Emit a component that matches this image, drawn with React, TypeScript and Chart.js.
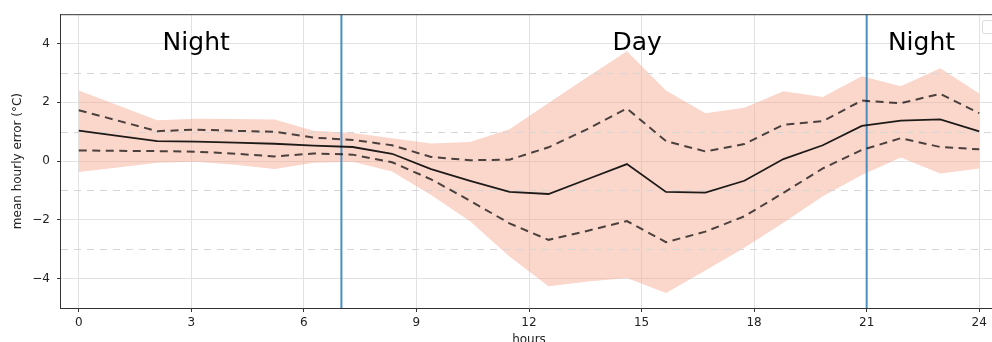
import React, { useEffect, useRef } from 'react';
import { Chart, registerables } from 'chart.js';

Chart.register(...registerables);

// ---- data ----
const HOURS = [0, 1.04, 2.09, 3.13, 4.17, 5.22, 6.26, 7.3, 8.35, 9.39, 10.43, 11.48, 12.52, 13.57, 14.61, 15.65, 16.7, 17.74, 18.78, 19.83, 20.87, 21.91, 22.96, 24];
const MEAN_ERROR = [1.04, 0.86, 0.68, 0.66, 0.63, 0.59, 0.53, 0.48, 0.25, -0.27, -0.67, -1.05, -1.12, -0.61, -0.1, -1.05, -1.07, -0.67, 0.07, 0.54, 1.2, 1.38, 1.42, 1.01];
const UPPER_QUARTILE = [1.73, 1.38, 1.02, 1.07, 1.03, 1.0, 0.8, 0.72, 0.54, 0.14, 0.03, 0.05, 0.47, 1.1, 1.79, 0.68, 0.33, 0.58, 1.24, 1.36, 2.06, 1.97, 2.29, 1.63];
const LOWER_QUARTILE = [0.36, 0.35, 0.34, 0.32, 0.25, 0.16, 0.26, 0.22, -0.04, -0.62, -1.35, -2.12, -2.68, -2.37, -2.04, -2.76, -2.4, -1.88, -1.08, -0.25, 0.38, 0.78, 0.48, 0.4];
const UPPER_BAND = [2.4, 1.9, 1.39, 1.44, 1.43, 1.42, 1.03, 0.96, 0.78, 0.6, 0.65, 1.08, 1.98, 2.87, 3.74, 2.4, 1.63, 1.82, 2.38, 2.18, 2.89, 2.55, 3.16, 2.3];
const LOWER_BAND = [-0.37, -0.22, -0.06, -0.02, -0.12, -0.27, -0.06, -0.02, -0.35, -1.15, -2.05, -3.25, -4.26, -4.1, -3.98, -4.49, -3.72, -2.95, -2.1, -1.2, -0.47, 0.12, -0.42, -0.25];

const PERIOD_BOUNDS = [7, 21];
const PERIOD_LABELS = ['Night', 'Day', 'Night'];
const PERIOD_LABEL_X = [3.13, 14.88, 22.46];
const PERIOD_LABEL_Y = 3.78;

const X_TICKS = [0, 3, 6, 9, 12, 15, 18, 21, 24];
const Y_TICKS = [-4, -2, 0, 2, 4];
const Y_DASHED = [-3, -1, 1, 3];

const X_MIN = -0.5;
const X_MAX = 24.5;
const Y_MIN = -5;
const Y_MAX = 5;

const FONT = '"DejaVu Sans", sans-serif';

const pts = (ys: number[]) => ys.map((y, i) => ({ x: HOURS[i], y }));

const decorPlugin = {
  id: 'decor',
  beforeDatasetsDraw(chart: any) {
    const { ctx, chartArea, scales } = chart;
    ctx.save();
    ctx.strokeStyle = '#d6d6d6';
    ctx.lineWidth = 1;
    ctx.setLineDash([7, 6]);
    Y_DASHED.forEach((v) => {
      const y = Math.round(scales.y.getPixelForValue(v)) + 0.5;
      ctx.beginPath();
      ctx.moveTo(chartArea.left + 1, y);
      ctx.lineTo(chartArea.right, y);
      ctx.stroke();
    });
    ctx.restore();
  },
  afterDatasetsDraw(chart: any) {
    const { ctx, chartArea, scales } = chart;
    ctx.save();
    // top spine
    ctx.strokeStyle = '#333';
    ctx.lineWidth = 1;
    ctx.beginPath();
    ctx.moveTo(chartArea.left, chartArea.top + 0.5);
    ctx.lineTo(chartArea.right, chartArea.top + 0.5);
    ctx.stroke();
    // period labels
    ctx.fillStyle = '#000';
    ctx.font = `25px ${FONT}`;
    ctx.textAlign = 'center';
    ctx.textBaseline = 'alphabetic';
    PERIOD_LABELS.forEach((t, i) => {
      ctx.fillText(t, scales.x.getPixelForValue(PERIOD_LABEL_X[i]), scales.y.getPixelForValue(PERIOD_LABEL_Y));
    });
    // empty legend frame (top-right corner)
    ctx.strokeStyle = '#dcdcdc';
    ctx.fillStyle = 'rgba(255,255,255,0.8)';
    ctx.lineWidth = 1;
    ctx.beginPath();
    (ctx as any).roundRect ? (ctx as any).roundRect(982.5, 20.5, 20, 13, 2) : ctx.rect(982.5, 20.5, 20, 13);
    ctx.fill();
    ctx.stroke();
    ctx.restore();
  },
};

export default function App() {
  const ref = useRef<HTMLCanvasElement | null>(null);

  useEffect(() => {
    if (!ref.current) return;
    const band = 'rgba(244,164,140,0.45)';
    const chart = new Chart(ref.current, {
      type: 'line',
      data: {
        datasets: [
          { data: pts(UPPER_BAND), borderWidth: 0, borderColor: 'transparent', backgroundColor: band, fill: '+1', pointRadius: 0 },
          { data: pts(LOWER_BAND), borderWidth: 0, borderColor: 'transparent', fill: false, pointRadius: 0 },
          { data: pts(UPPER_QUARTILE), borderColor: 'rgba(0,0,0,0.7)', borderWidth: 2, borderDash: [8, 5.5], fill: false, pointRadius: 0 },
          { data: pts(LOWER_QUARTILE), borderColor: 'rgba(0,0,0,0.7)', borderWidth: 2, borderDash: [8, 5.5], fill: false, pointRadius: 0 },
          { data: pts(MEAN_ERROR), borderColor: 'rgba(0,0,0,0.88)', borderWidth: 1.8, fill: false, pointRadius: 0 },
          ...PERIOD_BOUNDS.map((b) => ({
            data: [{ x: b, y: Y_MIN }, { x: b, y: Y_MAX }],
            borderColor: '#4a8fc0',
            borderWidth: 2,
            fill: false,
            pointRadius: 0,
          })),
        ],
      },
      options: {
        animation: false,
        responsive: false,
        devicePixelRatio: 1,
        layout: { padding: { left: 0, top: 14, right: 2, bottom: 0 } },
        elements: { line: { tension: 0 }, point: { radius: 0 } },
        plugins: {
          legend: { display: false },
          tooltip: { enabled: false },
          filler: { drawTime: 'beforeDatasetsDraw' },
        },
        scales: {
          x: {
            type: 'linear',
            min: X_MIN,
            max: X_MAX,
            afterFit: (s: any) => { s.height = 34; },
            afterBuildTicks: (s: any) => { s.ticks = X_TICKS.map((v) => ({ value: v })); },
            ticks: { font: { family: FONT, size: 12 }, color: '#222', padding: 4, maxRotation: 0, autoSkip: false, callback: (v: any) => String(v) },
            grid: { color: '#e2e2e2', lineWidth: 1, tickLength: 4, tickColor: '#333' },
            border: { display: true, color: '#333', width: 1 },
            title: { display: true, text: 'hours', font: { family: FONT, size: 12 }, color: '#222', padding: { top: 0, bottom: -5 } },
          },
          y: {
            type: 'linear',
            min: Y_MIN,
            max: Y_MAX,
            afterFit: (s: any) => { s.width = 60; },
            afterBuildTicks: (s: any) => { s.ticks = Y_TICKS.map((v) => ({ value: v })); },
            ticks: {
              font: { family: FONT, size: 12 },
              color: '#222',
              padding: 7,
              callback: (v: any) => (v < 0 ? '\u2212' + Math.abs(v) : String(v)),
            },
            grid: { color: '#e2e2e2', lineWidth: 1, tickLength: 3, tickColor: '#333' },
            border: { display: true, color: '#333', width: 1 },
            title: { display: true, text: 'mean hourly error (°C)', font: { family: FONT, size: 12 }, color: '#222', padding: { top: 11, bottom: 0 } },
          },
        },
      },
      plugins: [decorPlugin],
    } as any);
    return () => chart.destroy();
  }, []);

  return (
    <div style={{ position: 'fixed', left: 0, top: 0, width: 992, height: 342, overflow: 'hidden', background: '#fff' }}>
      <canvas ref={ref} width={1000} height={342} style={{ width: 1000, height: 342, display: 'block' }} />
    </div>
  );
}
